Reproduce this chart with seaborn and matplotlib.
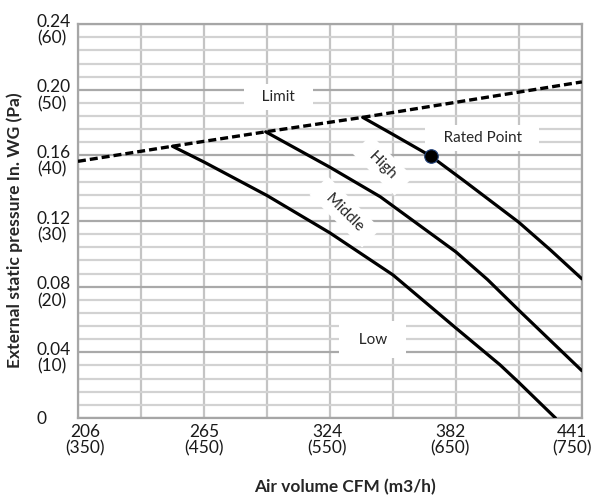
import pandas as pd
import seaborn as sns
import matplotlib.pyplot as plt
from matplotlib.ticker import MultipleLocator
from matplotlib.transforms import ScaledTranslation

# Air volume in m3/h, external static pressure in Pa
limit_x = [350, 425, 499, 576, 750]
limit_y = [39.1, 41.4, 43.6, 45.8, 51.2]

low_x = [425, 450, 500, 550, 600, 650, 685, 700, 729]
low_y = [41.4, 39.0, 33.9, 28.2, 21.8, 13.7, 8.1, 5.4, 0.0]

middle_x = [499, 550, 590, 650, 675, 700, 750]
middle_y = [43.6, 38.2, 33.7, 25.3, 21.1, 16.4, 7.2]

high_x = [576, 600, 630, 656, 700, 725, 750]
high_y = [45.8, 43.2, 39.9, 36.2, 29.8, 25.6, 21.2]

rated_x = [630]
rated_y = [39.9]

# Tick labels: CFM over m3/h, in. WG over Pa
x_ticks = [350, 450, 550, 650, 750]
x_cfm = ["206", "265", "324", "382", "441"]
y_ticks = [0, 10, 20, 30, 40, 50, 60]
y_inwg = ["0", "0.04", "0.08", "0.12", "0.16", "0.20", "0.24"]

sns.set_style("white")
plt.rcParams['font.family'] = ['Lato', 'DejaVu Sans']

fig = plt.figure(figsize=(5.95, 5.03), dpi=100)
ax = fig.add_axes([0.131, 0.169, 0.847, 0.783])

curves = pd.concat([
    pd.DataFrame({"x": low_x, "y": low_y, "speed": "Low"}),
    pd.DataFrame({"x": middle_x, "y": middle_y, "speed": "Middle"}),
    pd.DataFrame({"x": high_x, "y": high_y, "speed": "High"}),
])
limit_df = pd.DataFrame({"x": limit_x, "y": limit_y})

sns.lineplot(data=curves, x="x", y="y", units="speed", estimator=None,
             color="black", lw=2.3, ax=ax, zorder=5, legend=False)
sns.lineplot(data=limit_df, x="x", y="y", color="black", lw=2.4, ax=ax, zorder=5)
ax.lines[-1].set_dashes((2.4, 1.2))
sns.scatterplot(x=rated_x, y=rated_y, color="black", s=95,
                edgecolor="#1f3f78", linewidth=0.8, ax=ax, zorder=6)

# Axes, ticks and grid
ax.set_xlim(350, 750)
ax.set_ylim(0, 60)
ax.set_xticks(x_ticks, labels=[f"{c}\n({m})" for c, m in zip(x_cfm, x_ticks)])
ax.set_yticks(y_ticks, labels=[w if p == 0 else f"{w}\n({p})" for w, p in zip(y_inwg, y_ticks)])
ax.xaxis.set_minor_locator(MultipleLocator(50))
ax.yaxis.set_minor_locator(MultipleLocator(2))
ax.tick_params(which="both", length=0, labelsize=12.5, colors="#1a1a1a")
ax.tick_params(axis="x", pad=4)
ax.tick_params(axis="y", pad=29.5)

x_shift = [5, 0, -2, -4, -7]  # points, labels sit a bit off their ticks
for lab, dx in zip(ax.get_xticklabels(), x_shift):
    lab.set_multialignment("center")
    lab.set_linespacing(1.05)
    lab.set_transform(lab.get_transform() + ScaledTranslation(dx / 72, 0, fig.dpi_scale_trans))
for lab, p in zip(ax.get_yticklabels(), y_ticks):
    lab.set_ha("left")
    lab.set_multialignment("left")
    lab.set_linespacing(1.05)
    dy = 0 if p == 0 else -3
    lab.set_transform(lab.get_transform() + ScaledTranslation(0, dy / 72, fig.dpi_scale_trans))

ax.grid(True, which="major", axis="y", color="#a9a9a9", lw=1.6, zorder=0)
ax.grid(True, which="minor", axis="y", color="#d2d2d2", lw=1.6, zorder=0)
ax.grid(True, which="both", axis="x", color="#c4c4c4", lw=1.6, zorder=0)
ax.set_axisbelow(True)
for s in ax.spines.values():
    s.set_color("#a6a6a6")
    s.set_linewidth(1.6)

ax.set_xlabel("Air volume CFM (m3/h)", fontsize=12.4, fontweight="bold")
ax.xaxis.set_label_coords(0.53, -0.155)
ax.set_ylabel("External static pressure In. WG (Pa)", fontsize=12.6, fontweight="bold")
ax.yaxis.set_label_coords(-0.11, 0.477)

# Curve annotations with white boxes that hide the grid
box = dict(boxstyle="square,pad=0.4", fc="white", ec="none")
ax.text(509, 48.9, "   Limit   ", fontsize=11, ha="center", va="center", bbox=box, zorder=3)
ax.text(671, 42.6, "   Rated Point   ", fontsize=11, ha="center", va="center", bbox=box, zorder=3)
ax.text(592, 38.5, "  High  ", fontsize=11, ha="center", va="center", rotation=-45,
        rotation_mode="anchor", bbox=box, zorder=3)
ax.text(562, 31.4, "  Middle  ", fontsize=11, ha="center", va="center", rotation=-45,
        rotation_mode="anchor", bbox=box, zorder=3)
ax.text(584, 11.9, "  Low  ", fontsize=11, ha="center", va="center",
        bbox=dict(boxstyle="square,pad=0.75", fc="white", ec="none"), zorder=3)

fig.savefig("out.png", dpi=100)
